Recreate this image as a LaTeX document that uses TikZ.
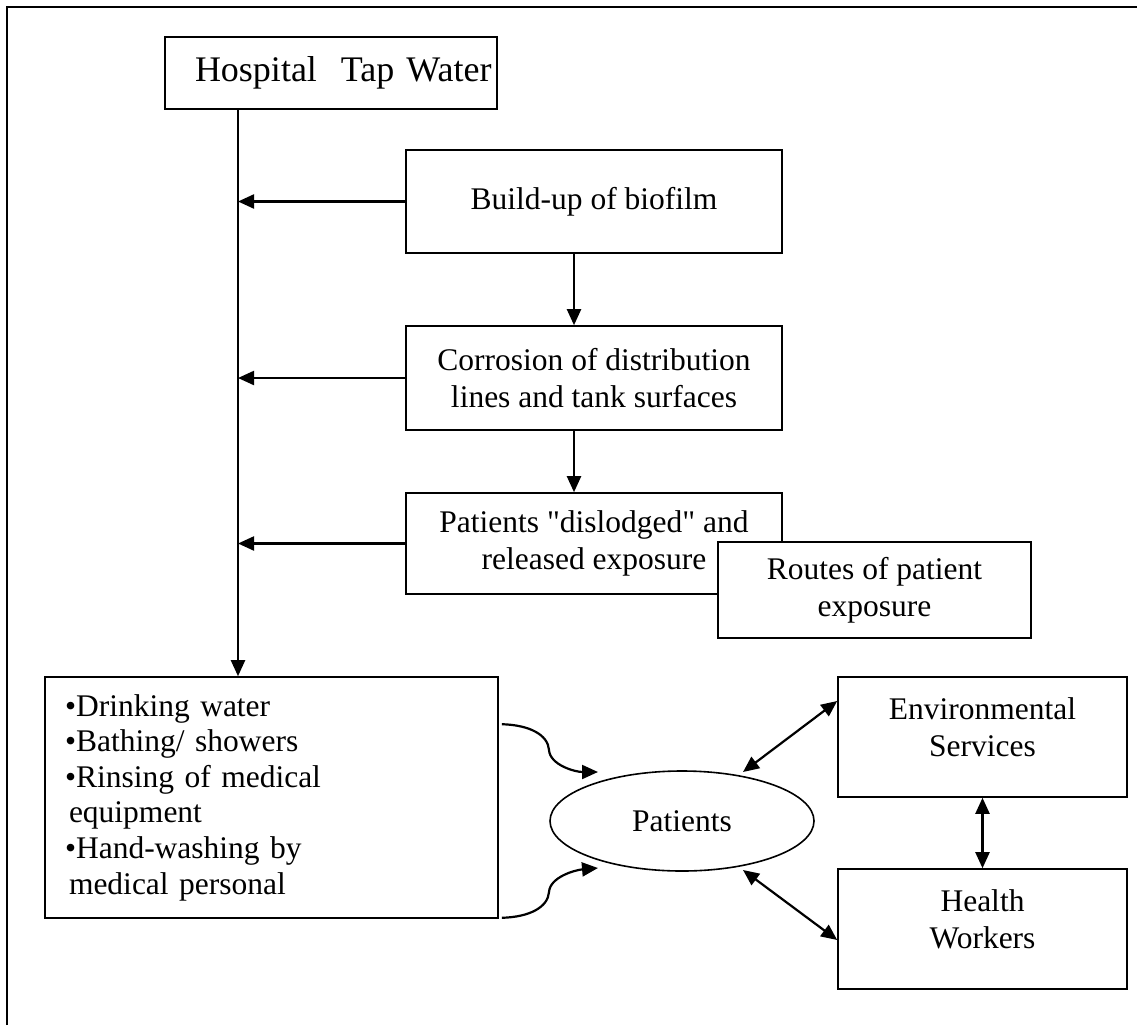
\documentclass[tikz,border=0pt]{standalone}
\usepackage{fontspec}
\setmainfont{Liberation Serif}[Ligatures=TeXOff]
\usetikzlibrary{arrows.meta,shapes.geometric}
\begin{document}
\begin{tikzpicture}[x=1pt,y=-1pt,
  box/.style={draw, line width=1.6pt, rectangle, inner sep=0pt, align=center,
    font=\fontsize{31.5pt}{37pt}\selectfont},
  tip/.style={Triangle[length=16pt,width=14pt]},
  arr/.style={line width=2.2pt, -{Triangle[length=16pt,width=14pt]}},
  darr/.style={line width=2.2pt, {Triangle[length=16pt,width=14pt]}-{Triangle[length=16pt,width=14pt]}},
]
\useasboundingbox (0,0) rectangle (1137,1025);
\draw[line width=2.6pt] (7,1025) -- (7,7) -- (1137,7);

\node[box, minimum width=332pt, minimum height=72pt, text width=332pt, align=left,
  font=\fontsize{36pt}{42pt}\selectfont] (hosp) at (331,73) {\hspace*{30pt}Hospital\ \ Tap Water};

\node[box, minimum width=376pt, minimum height=103pt] (build) at (594,201.5) {Build-up of biofilm};
\node[box, minimum width=376pt, minimum height=104pt] (corr) at (594,378) {Corrosion of distribution\\lines and tank surfaces};
\node[box, minimum width=376pt, minimum height=101pt] (disl) at (594,543.5) {Patients "dislodged" and\\released exposure};
\node[box, fill=white, minimum width=313pt, minimum height=96pt] (routes) at (874.5,590) {Routes of patient\\exposure};

\node[box, minimum width=453pt, minimum height=241pt, text width=413pt, inner xsep=20pt, align=left,
  font=\fontsize{31.5pt}{35.6pt}\selectfont] (list) at (271.5,797.5)
  {•Drinking water\\•Bathing/ showers\\•Rinsing of medical\\\hspace*{4pt}equipment\\•Hand-washing by\\\hspace*{4pt}medical personal};

\node[draw, ellipse, line width=1.6pt, minimum width=264pt, minimum height=100pt, inner sep=0pt,
  font=\fontsize{31.5pt}{37pt}\selectfont] (pat) at (682,821) {Patients};

\node[box, minimum width=289pt, minimum height=120pt] (env) at (982.5,737) {Environmental\\Services\rule[-20pt]{0pt}{20pt}};
\node[box, minimum width=289pt, minimum height=120pt] (hw) at (982.5,929) {Health\\Workers\rule[-20pt]{0pt}{20pt}};

\coordinate (trunk) at (238,0);
\coordinate (mid) at (574,0);
\draw[arr] (hosp.south -| trunk) -- (list.north -| trunk);
\draw[arr] (build.west) -- (build.west -| trunk);
\draw[arr] (corr.west) -- (corr.west -| trunk);
\draw[arr] (disl.west) -- (disl.west -| trunk);
\draw[arr] (build.south -| mid) -- (corr.north -| mid);
\draw[arr] (corr.south -| mid) -- (disl.north -| mid);

\draw[arr] ([xshift=3pt,yshift=-48pt]list.north east) .. controls (530,725) and (548,735) .. (549,750)
  .. controls (550,765) and (575,772) .. ([shift={(-84,-49)}]pat.center);
\draw[arr] ([xshift=3pt,yshift=1pt]list.south east) .. controls (530,917) and (548,907) .. (549,892)
  .. controls (550,877) and (575,870) .. ([shift={(-84,47)}]pat.center);

\draw[darr] ([shift={(61,-49)}]pat.center) -- ([yshift=36pt]env.west);
\draw[darr] ([shift={(61,49)}]pat.center) -- ([yshift=-11pt]hw.west);
\draw[darr] (env.south) -- (hw.north);
\end{tikzpicture}
\end{document}
